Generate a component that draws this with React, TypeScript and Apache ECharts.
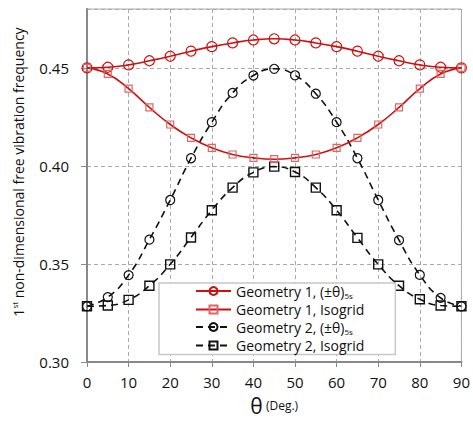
import React, { useEffect, useRef } from "react";
import * as echarts from "echarts";

const angles = [0, 5, 10, 15, 20, 25, 30, 35, 40, 45, 50, 55, 60, 65, 70, 75, 80, 85, 90];

const geo1Angle = [0.45, 0.4503, 0.4515, 0.4536, 0.4559, 0.4585, 0.4608, 0.4627, 0.4642, 0.4648, 0.4642, 0.4627, 0.4608, 0.4585, 0.4559, 0.4536, 0.4515, 0.4503, 0.45];
const geo1Iso = [0.45, 0.4469, 0.4394, 0.4298, 0.4211, 0.4143, 0.4092, 0.4058, 0.4041, 0.4034, 0.4041, 0.4058, 0.4092, 0.4143, 0.4211, 0.4298, 0.4394, 0.4469, 0.45];
const geo2Angle = [0.3284, 0.3331, 0.3443, 0.3624, 0.3826, 0.4039, 0.4223, 0.4372, 0.4461, 0.4495, 0.4462, 0.4368, 0.4223, 0.4039, 0.3826, 0.3621, 0.3444, 0.3327, 0.3284];
const geo2Iso = [0.3284, 0.3288, 0.3317, 0.3389, 0.3498, 0.3635, 0.3774, 0.3889, 0.3967, 0.3996, 0.3969, 0.3889, 0.3774, 0.3633, 0.3498, 0.3389, 0.332, 0.3288, 0.3284];

const seriesNames = ["Geometry 1, (±θ)5s", "Geometry 1, Isogrid", "Geometry 2, (±θ)5s", "Geometry 2, Isogrid"];
const yTicks = [0.3, 0.35, 0.4, 0.45];

const FONT = "'Open Sans', 'Noto Sans', sans-serif";

export default function App() {
  const ref = useRef<HTMLDivElement>(null);
  useEffect(() => {
    if (!ref.current) return;
    const chart = echarts.init(ref.current, undefined, { renderer: "svg" });
    const mk = (ys: number[]) => angles.map((a, i) => [a, ys[i]]);
    const red = "#cc1111";
    const redSq = "#e06666";
    const black = "#111111";
    chart.setOption({
      animation: false,
      backgroundColor: "#ffffff",
      grid: {
        left: 87,
        right: 7,
        top: 9,
        bottom: 61,
        show: true,
        borderColor: "#aaaaaa",
        borderWidth: 1,
        backgroundColor: "transparent",
      },
      xAxis: {
        type: "value",
        min: 0,
        max: 90,
        interval: 10,
        name: "{t|θ}{d| (Deg.)}",
        nameLocation: "middle",
        nameGap: 33,
        nameTextStyle: {
          rich: {
            t: { fontSize: 21, fontFamily: FONT, color: "#111" },
            d: { fontSize: 12, fontFamily: FONT, color: "#111" },
          },
        },
        axisLine: { show: true, onZero: false, lineStyle: { color: "#888", width: 2 } },
        axisTick: { show: true, length: 5, lineStyle: { color: "#888", width: 1 } },
        axisLabel: { margin: 12, fontSize: 15, fontFamily: FONT, color: "#111" },
        splitLine: { show: true, lineStyle: { color: "#aaa", type: [4, 3], width: 1 } },
      },
      yAxis: {
        type: "value",
        min: 0.3,
        max: 0.48,
        interval: 0.05,
        axisLine: { show: true, onZero: false, lineStyle: { color: "#888", width: 2 } },
        axisTick: { show: true, length: 6, lineStyle: { color: "#888", width: 1 } },
        axisLabel: {
          margin: 18,
          fontSize: 15,
          fontFamily: FONT,
          color: "#111",
          showMaxLabel: false,
          formatter: (v: number) => {
            const t = yTicks.find((x) => Math.abs(x - v) < 1e-6);
            return t === undefined ? "" : t.toFixed(2);
          },
        },
        splitLine: { show: true, lineStyle: { color: "#aaa", type: [4, 3], width: 1 } },
      },
      legend: {
        orient: "vertical",
        left: 159,
        top: 283,
        itemWidth: 35,
        itemHeight: 10,
        itemGap: 3.5,
        padding: [1, 31, 2, 36],
        backgroundColor: "#ffffff",
        borderColor: "#c8c8c8",
        borderWidth: 1.5,
        borderRadius: 0,
        data: seriesNames,
        formatter: (name: string) => {
          if (name.endsWith("5s")) return "{a|" + name.slice(0, -2) + "}{s|5s}";
          return "{a|" + name + "}";
        },
        textStyle: {
          fontFamily: FONT,
          fontSize: 14,
          color: "#111",
          rich: {
            a: { fontFamily: FONT, fontSize: 14, color: "#111", lineHeight: 16 },
            s: { fontFamily: FONT, fontSize: 8, color: "#111", verticalAlign: "bottom", lineHeight: 14 },
          },
        },
      },
      graphic: [
        {
          type: "text",
          x: 18,
          y: 172,
          rotation: Math.PI / 2,
          style: {
            text: "{n|1}{s|st}{n| non-dimensional free vibration frequency}",
            align: "center",
            verticalAlign: "middle",
            rich: {
              n: { fontFamily: FONT, fontSize: 14, fill: "#111", lineHeight: 16 },
              s: { fontFamily: FONT, fontSize: 8, fill: "#111", verticalAlign: "top", lineHeight: 16 },
            },
          },
        },
      ],
      series: [
        {
          name: seriesNames[0],
          type: "line",
          smooth: true,
          data: mk(geo1Angle),
          symbol: "circle",
          symbolSize: 10,
          lineStyle: { color: red, width: 1.6 },
          itemStyle: { color: "transparent", borderColor: red, borderWidth: 1.2 },
          z: 3,
        },
        {
          name: seriesNames[1],
          type: "line",
          smooth: true,
          data: mk(geo1Iso),
          symbol: "rect",
          symbolSize: 7,
          lineStyle: { color: red, width: 1.6 },
          itemStyle: { color: "transparent", borderColor: redSq, borderWidth: 1.2 },
          z: 3,
        },
        {
          name: seriesNames[2],
          type: "line",
          smooth: true,
          data: mk(geo2Angle),
          symbol: "circle",
          symbolSize: 9,
          lineStyle: { color: black, width: 1.6, type: [7, 5] },
          itemStyle: { color: "transparent", borderColor: black, borderWidth: 1.2 },
          z: 2,
        },
        {
          name: seriesNames[3],
          type: "line",
          smooth: true,
          data: mk(geo2Iso),
          symbol: "rect",
          symbolSize: 9,
          lineStyle: { color: black, width: 1.6, type: [7, 5] },
          itemStyle: { color: "transparent", borderColor: black, borderWidth: 1.4 },
          z: 2,
        },
      ],
    });
    return () => chart.dispose();
  }, []);
  return <div ref={ref} style={{ width: 473, height: 423, position: "absolute", left: 0, top: 0 }} />;
}
